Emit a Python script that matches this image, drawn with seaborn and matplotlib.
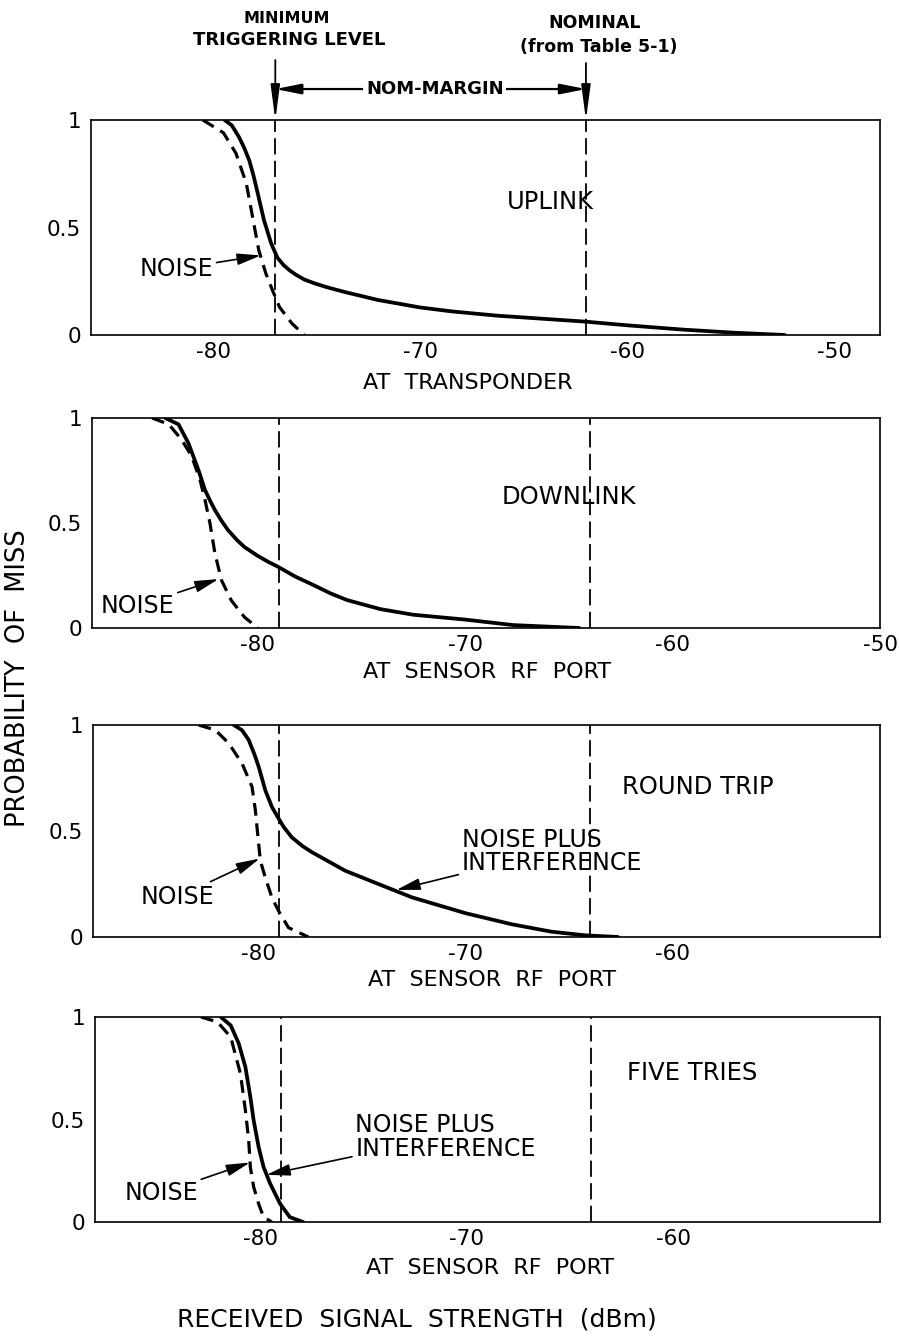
import matplotlib
matplotlib.use("Agg")
import matplotlib.pyplot as plt
import seaborn as sns
import pandas as pd

# ---- Probability-of-miss curves (received signal strength in dBm) ----
up_noise_x = [-80.5, -79.5, -78.9, -78.4, -78.1, -77.8, -77.46, -77.14, -76.8, -76.2, -75.6]
up_noise_y = [1.0, 0.94, 0.845, 0.705, 0.55, 0.395, 0.287, 0.209, 0.13, 0.054, 0.0]
up_total_x = [-79.45, -79.1, -78.75, -78.5, -78.25, -78.05, -77.85, -77.55, -77.2, -76.9,
              -76.6, -76.3, -76.0, -75.6, -75.1, -74.5, -73.65, -72.05, -70.0, -68.5,
              -66.3, -64.0, -62.0, -60.0, -57.3, -54.9, -52.4]
up_total_y = [1.0, 0.975, 0.92, 0.87, 0.81, 0.74, 0.66, 0.535, 0.426, 0.36,
              0.325, 0.3, 0.28, 0.258, 0.24, 0.222, 0.2, 0.163, 0.128, 0.11,
              0.09, 0.075, 0.062, 0.045, 0.025, 0.011, 0.0]

dn_noise_x = [-85.1, -84.3, -83.67, -83.19, -82.79, -82.55, -82.31, -82.07, -81.75, -81.28, -80.64, -80.0]
dn_noise_y = [1.0, 0.97, 0.896, 0.817, 0.705, 0.61, 0.498, 0.354, 0.226, 0.131, 0.051, 0.0]
dn_total_x = [-84.47, -83.83, -83.35, -82.87, -82.55, -82.3, -82.07, -81.75, -81.44, -81.0,
              -80.64, -80.0, -79.5, -79.0, -78.2, -77.29, -76.5, -75.7, -74.1, -72.5,
              -70.0, -67.7, -64.5]
dn_total_y = [1.0, 0.97, 0.88, 0.753, 0.657, 0.605, 0.561, 0.51, 0.466, 0.418,
              0.385, 0.343, 0.315, 0.29, 0.245, 0.203, 0.165, 0.133, 0.09, 0.063,
              0.04, 0.014, 0.0]

rt_noise_x = [-82.9, -82.09, -81.44, -80.8, -80.32, -80.16, -80.05, -79.92, -79.68, -79.36, -79.04, -78.56, -77.6]
rt_noise_y = [1.0, 0.976, 0.913, 0.818, 0.708, 0.597, 0.487, 0.36, 0.28, 0.186, 0.123, 0.044, 0.0]
rt_total_x = [-81.2, -80.8, -80.48, -80.2, -80.0, -79.68, -79.36, -79.08, -78.8, -78.4,
              -77.9, -77.43, -76.6, -75.83, -74.22, -72.6, -70.0, -67.78, -65.86, -64.25, -62.65]
rt_total_y = [1.0, 0.975, 0.929, 0.86, 0.803, 0.692, 0.613, 0.566, 0.52, 0.47,
              0.43, 0.4, 0.355, 0.313, 0.25, 0.187, 0.112, 0.06, 0.025, 0.008, 0.0]

ft_noise_x = [-82.87, -82.07, -81.43, -80.96, -80.72, -80.56, -80.48, -80.32, -80.08, -79.84, -79.44]
ft_noise_y = [1.0, 0.976, 0.902, 0.724, 0.545, 0.398, 0.268, 0.171, 0.089, 0.024, 0.0]
ft_total_x = [-81.91, -81.43, -81.04, -80.72, -80.48, -80.32, -80.08, -79.84, -79.52, -79.04, -78.57, -77.93]
ft_total_y = [1.0, 0.959, 0.87, 0.756, 0.61, 0.496, 0.366, 0.268, 0.187, 0.089, 0.024, 0.0]

# Reference levels per panel
panel_names = ["UPLINK", "DOWNLINK", "ROUND TRIP", "FIVE TRIES"]
panel_xlabels = ["AT  TRANSPONDER", "AT  SENSOR  RF  PORT", "AT  SENSOR  RF  PORT", "AT  SENSOR  RF  PORT"]
min_trigger = [-77, -79, -79, -79]
nominal = [-62, -64, -64, -64]
x_ticks = [[-80, -70, -60, -50], [-80, -70, -60, -50], [-80, -70, -60], [-80, -70, -60]]
x_limits = [(-85.9, -47.8), (-88, -50), (-88, -50), (-88, -50)]
y_ticks = [0, 0.5, 1]
y_ticklabels = ["0", "0.5", "1"]

curves = [
    (up_noise_x, up_noise_y, up_total_x, up_total_y),
    (dn_noise_x, dn_noise_y, dn_total_x, dn_total_y),
    (rt_noise_x, rt_noise_y, rt_total_x, rt_total_y),
    (ft_noise_x, ft_noise_y, ft_total_x, ft_total_y),
]

sns.set_theme(style="white")
plt.rcParams["font.family"] = ["DejaVu Sans"]
plt.rcParams["axes.unicode_minus"] = False
for key in ("text.color", "axes.labelcolor", "xtick.color", "ytick.color", "axes.edgecolor"):
    plt.rcParams[key] = "black"

W, H = 899, 1336
fig = plt.figure(figsize=(W / 100, H / 100), dpi=100)
fig.patch.set_facecolor("white")

# axes boxes in pixels: left, right, top, bottom
boxes = [(91, 880, 120, 335), (92, 880, 418, 628), (93, 880, 725, 937), (95, 880, 1017, 1222)]
name_pos = [(-63.7, 0.62), (-65.0, 0.624), (-58.8, 0.708), (-59.1, 0.727)]
xlabel_pos = [(0.477, -0.223), (0.501, -0.21), (0.507, -0.203), (0.503, -0.224)]

ARROW = dict(arrowstyle="-|>,head_length=0.9,head_width=0.22", color="black", lw=1.2,
             shrinkA=0, shrinkB=0, mutation_scale=16)

axes = []
for i, (l, r, t, b) in enumerate(boxes):
    ax = fig.add_axes([l / W, 1 - b / H, (r - l) / W, (b - t) / H])
    axes.append(ax)
    nx, ny, tx, ty = curves[i]
    noise_df = pd.DataFrame({"dbm": nx, "p": ny})
    total_df = pd.DataFrame({"dbm": tx, "p": ty})
    sns.lineplot(data=total_df, x="dbm", y="p", ax=ax, color="black", lw=2.7,
                 sort=False, estimator=None, solid_joinstyle="round", solid_capstyle="round")
    sns.lineplot(data=noise_df, x="dbm", y="p", ax=ax, color="black", lw=2.3,
                 linestyle=(0, (4, 2.4)), sort=False, estimator=None)
    ax.axvline(min_trigger[i], color="black", lw=1.3, linestyle=(0, (9, 3.5)))
    ax.axvline(nominal[i], color="black", lw=1.3, linestyle=(0, (9, 3.5)))

    ax.set_xlim(*x_limits[i])
    ax.set_ylim(0, 1)
    ax.set_xticks(x_ticks[i])
    ax.set_yticks(y_ticks)
    ax.set_yticklabels(y_ticklabels)
    ax.tick_params(axis="x", direction="in", length=10, width=1.1, labelsize=15.5, pad=5)
    ax.tick_params(axis="y", direction="in", length=13, width=1.1, labelsize=15.5, pad=7)
    for sp in ax.spines.values():
        sp.set_visible(True)
        sp.set_color("black")
        sp.set_linewidth(1.2)
    ax.set_ylabel("")
    ax.set_xlabel(panel_xlabels[i], fontsize=16, va="center")
    ax.xaxis.set_label_coords(*xlabel_pos[i])
    ax.text(*name_pos[i], panel_names[i], fontsize=17.5, ha="center", va="center")

# ---- curve call-outs ----
ax1, ax2, ax3, ax4 = axes
CALL = dict(fontsize=17, va="center", arrowprops=ARROW)
ax1.annotate("NOISE", xy=(-77.7, 0.37), xytext=(-80.0, 0.307), ha="right", **CALL)
ax2.annotate("NOISE", xy=(-81.9, 0.233), xytext=(-85.8, 0.105), ha="center", **CALL)
ax3.annotate("NOISE", xy=(-79.95, 0.37), xytext=(-83.9, 0.189), ha="center", **CALL)
ax3.annotate("NOISE PLUS\nINTERFERENCE", xy=(-73.35, 0.222), xytext=(-70.2, 0.403),
             ha="left", linespacing=0.98, **CALL)
ax4.annotate("NOISE", xy=(-80.5, 0.29), xytext=(-84.8, 0.141), ha="center", **CALL)
ax4.annotate("NOISE PLUS\nINTERFERENCE", xy=(-79.7, 0.23), xytext=(-75.4, 0.415),
             ha="left", linespacing=0.98, **CALL)

# ---- reference-level headers above the top panel ----
VARROW = dict(arrowstyle="-|>,head_length=1.5,head_width=0.2", color="black", lw=1.3,
              shrinkA=0, shrinkB=0, mutation_scale=14)
HARROW = dict(arrowstyle="<|-|>,head_length=1.1,head_width=0.22", color="black", lw=1.6,
              shrinkA=0, shrinkB=0, mutation_scale=14)
ax1.annotate("", xy=(min_trigger[0], 1.0), xytext=(min_trigger[0], 1.279),
             arrowprops=VARROW, annotation_clip=False)
ax1.annotate("", xy=(nominal[0], 1.0), xytext=(nominal[0], 1.265),
             arrowprops=VARROW, annotation_clip=False)
ax1.annotate("", xy=(min_trigger[0], 1.144), xytext=(nominal[0], 1.144),
             arrowprops=HARROW, annotation_clip=False)
ax1.text((min_trigger[0] + nominal[0]) / 2 + 0.2, 1.144, "NOM-MARGIN", fontsize=13,
         fontweight="heavy", ha="center", va="center", clip_on=False,
         bbox=dict(facecolor="white", edgecolor="none", pad=2))
ax1.text(-76.44, 1.47, "MINIMUM", fontsize=11.5, fontweight="heavy", ha="center", va="center", clip_on=False)
ax1.text(-76.32, 1.372, "TRIGGERING LEVEL", fontsize=13, fontweight="heavy", ha="center",
         va="center", clip_on=False)
ax1.text(-61.6, 1.451, "NOMINAL", fontsize=12.5, fontweight="heavy", ha="center", va="center", clip_on=False)
ax1.text(-61.36, 1.34, "(from Table 5-1)", fontsize=12.5, fontweight="heavy", ha="center",
         va="center", clip_on=False)

# ---- shared axis titles ----
fig.text(18 / W, 1 - 678 / H, "PROBABILITY  OF  MISS", rotation=90, fontsize=18.5,
         ha="center", va="center")
fig.text(417 / W, 1 - 1320 / H, "RECEIVED  SIGNAL  STRENGTH  (dBm)", fontsize=18,
         ha="center", va="center")

fig.savefig("out.png", dpi=100, facecolor="white")
